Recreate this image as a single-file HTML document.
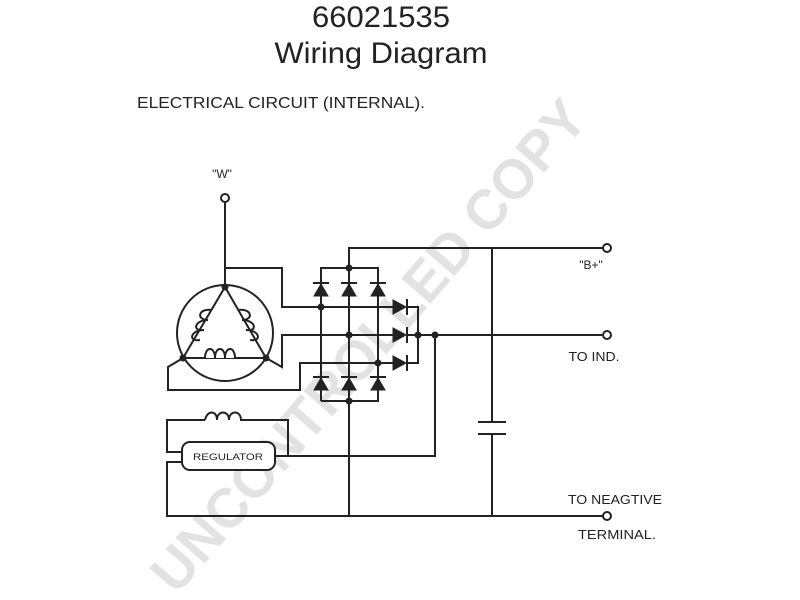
<!DOCTYPE html>
<html><head><meta charset="utf-8"><style>
html,body{margin:0;padding:0;background:#fff;}
svg{display:block;}
text{font-family:"Liberation Sans",sans-serif;fill:#222;}
</style></head><body>
<svg width="800" height="600" viewBox="0 0 800 600" xmlns="http://www.w3.org/2000/svg">
<rect width="800" height="600" fill="#fff"/>
<!-- watermark -->
<text x="368" y="365" transform="rotate(-49 368 345)" text-anchor="middle" font-size="56" font-weight="bold" style="fill:#e2e2e2" textLength="630" lengthAdjust="spacingAndGlyphs">UNCONTROLLED COPY</text>

<text x="381" y="27" text-anchor="middle" font-size="30" textLength="138" lengthAdjust="spacingAndGlyphs">66021535</text>
<text x="381" y="63" text-anchor="middle" font-size="30" textLength="213" lengthAdjust="spacingAndGlyphs">Wiring Diagram</text>
<text x="137" y="108" font-size="16" textLength="288" lengthAdjust="spacingAndGlyphs">ELECTRICAL CIRCUIT (INTERNAL).</text>
<text x="222" y="178" text-anchor="middle" font-size="12">"W"</text>
<text x="591" y="269" text-anchor="middle" font-size="12">"B+"</text>
<text x="594" y="361" text-anchor="middle" font-size="13" textLength="51" lengthAdjust="spacingAndGlyphs">TO IND.</text>
<text x="615" y="504" text-anchor="middle" font-size="13" textLength="94" lengthAdjust="spacingAndGlyphs">TO NEAGTIVE</text>
<text x="617" y="539" text-anchor="middle" font-size="13" textLength="78" lengthAdjust="spacingAndGlyphs">TERMINAL.</text>

<g stroke="#222" stroke-width="2" fill="none">
<!-- W -->
<circle cx="225" cy="198" r="4" fill="#fff"/>
<line x1="225" y1="202" x2="225" y2="287"/>
<polyline points="225,268 282,268 282,307 393,307"/>
<!-- stator -->
<circle cx="225" cy="333" r="48"/>
<polyline points="183,358 225,287 266,358 183,358"/>
<polyline points="266,358 282,367 282,335 393,335"/>
<polyline points="183,358 168,367 168,390 300,390 300,363 393,363"/>
<!-- bridge -->
<polyline points="321,401 321,268 378,268 378,401 321,401"/>
<line x1="349" y1="268" x2="349" y2="401"/>
<polyline points="349,268 349,248 603,248"/>
<polyline points="407,307 418,307 418,363 407,363"/>
<line x1="407" y1="335" x2="602" y2="335"/>
<circle cx="607" cy="248" r="4" fill="#fff"/>
<circle cx="607" cy="335" r="4" fill="#fff"/>
<!-- capacitor -->
<line x1="492" y1="248" x2="492" y2="422"/>
<line x1="478" y1="422" x2="506" y2="422"/>
<line x1="478" y1="434" x2="506" y2="434"/>
<line x1="492" y1="434" x2="492" y2="516"/>
<!-- ind to regulator -->
<polyline points="435,335 435,456 275,456"/>
<!-- ground -->
<line x1="349" y1="401" x2="349" y2="516"/>
<polyline points="182,462 167,462 167,516 603,516"/>
<circle cx="607" cy="516" r="4" fill="#fff"/>
<!-- field -->
<polyline points="182,452 167,452 167,420 205,420"/>
<polyline points="245,420 288,420 288,456"/>
<path d="M205,420 c2,-10 12,-10 12,0 c0,-10 12,-10 12,0 c0,-10 12,-10 12,0 l4,0"/>
<rect x="182" y="442" width="93" height="28" rx="8" fill="#fff"/>
<!-- stator coils -->
<path d="M205,358 c0,-12 10,-12 10,0 c0,-12 10,-12 10,0 c0,-12 10,-12 10,0" fill="#fff"/>
<path d="M212,310 c-14,-2 -16,10 -4,10 c-14,0 -16,12 -4,10 c-14,0 -16,12 -4,10" fill="none"/>
<path d="M238,310 c14,-2 16,10 4,10 c14,0 16,12 4,10 c14,0 16,12 4,10" fill="none"/>
</g>
<text x="228" y="460" text-anchor="middle" font-size="9" textLength="70" lengthAdjust="spacingAndGlyphs">REGULATOR</text>
<g fill="#222" stroke="#222" stroke-width="2">
<g id="d"><polygon points="314,296 328,296 321,284" stroke-width="1"/><line x1="313" y1="283" x2="329" y2="283"/></g>
<use href="#d" x="28"/><use href="#d" x="57"/>
<use href="#d" y="94"/><use href="#d" x="28" y="94"/><use href="#d" x="57" y="94"/>
<g id="r"><polygon points="393,300 393,314 406,307" stroke-width="1"/><line x1="407" y1="299" x2="407" y2="315"/></g>
<use href="#r" y="28"/><use href="#r" y="56"/>
</g>
<g fill="#222">
<circle cx="225" cy="287" r="3.5"/><circle cx="183" cy="358" r="3.5"/><circle cx="266" cy="358" r="3.5"/>
<circle cx="349" cy="268" r="3.5"/><circle cx="349" cy="401" r="3.5"/>
<circle cx="321" cy="307" r="3.5"/><circle cx="349" cy="335" r="3.5"/><circle cx="378" cy="363" r="3.5"/>
<circle cx="418" cy="335" r="3.5"/><circle cx="435" cy="335" r="3.5"/>
</g>
</svg>
</body></html>
